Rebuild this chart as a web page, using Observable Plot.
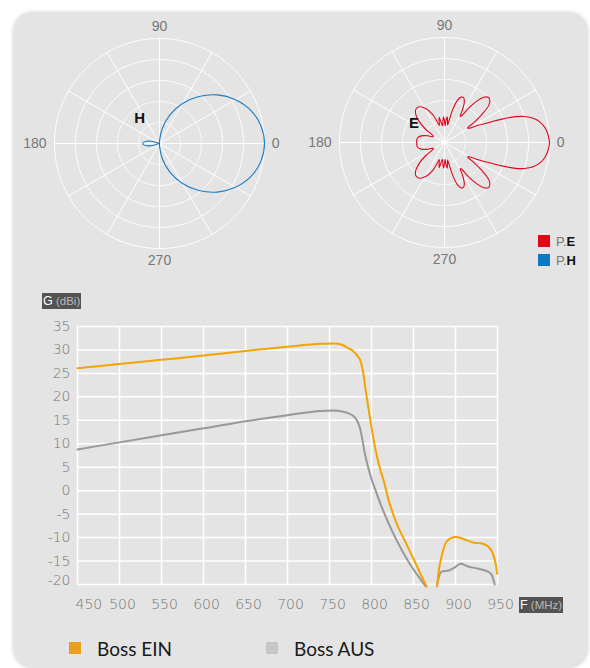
<!DOCTYPE html>
<html><head><meta charset="utf-8">
<script src="https://cdn.jsdelivr.net/npm/d3@7"></script>
<script src="https://cdn.jsdelivr.net/npm/@observablehq/plot@0.6"></script>
<style>
html,body{margin:0;padding:0;background:#fff;}
#root{position:relative;width:590px;height:668px;overflow:hidden;}
#panel{position:absolute;left:13px;top:12px;width:575px;height:656px;background:#e3e4e3;border-radius:20px;box-shadow:0 0 4px rgba(0,0,0,0.16);}
.abs{position:absolute;}
.tag{position:absolute;height:16px;background:#535353;font-family:"Liberation Sans",Arial,sans-serif;font-size:11.5px;line-height:16px;white-space:nowrap;padding:0 1px;}
.tag b{color:#fff;font-weight:normal;font-size:12.5px;}
.tag span{color:#b8b8b8;}
.pleg{position:absolute;font-family:"Liberation Sans",Arial,sans-serif;font-size:13px;line-height:13px;white-space:nowrap;}
.pleg i{display:inline-block;width:12px;height:12px;vertical-align:-1px;margin-right:6px;}
.pleg span{color:#777;}
.pleg b{color:#111;}
.leg{position:absolute;font-family:Lato,"Open Sans",sans-serif;font-size:19px;color:#1a1a1a;white-space:nowrap;line-height:19px;}
.sq{position:absolute;width:12px;height:12px;}
</style></head><body>
<div id="root"><div id="panel"></div></div>
<script>
// ---------- polar patterns ----------
const hAngle = [0,10,20,30,40,50,60,70,80,88,90,160,165,170,175,180,185,190,195,200,270,272,280,290,300,310,320,330,340,350];
const hRadius = [1.0,0.98,0.925,0.835,0.72,0.585,0.44,0.29,0.14,0.03,0,0,0.08,0.125,0.15,0.16,0.15,0.125,0.08,0,0,0.03,0.14,0.29,0.44,0.585,0.72,0.835,0.925,0.98];

const eAngleUpper = [0,4,8,12,15,18,20,22,24,27,30,32,34,37,40,43,46,49,52,55,57,59,61,64,67,70,73,76,78,80,82,84,86,88,90,92,94,97,100,102,104,107,110,113,119,125,130,135,140,145,149,153,158,164,170,175,180];
const eRadiusUpper = [1.00,0.99,0.97,0.93,0.88,0.80,0.72,0.60,0.48,0.36,0.27,0.26,0.33,0.45,0.55,0.59,0.60,0.57,0.50,0.40,0.31,0.29,0.35,0.43,0.465,0.46,0.42,0.32,0.22,0.17,0.21,0.245,0.21,0.16,0.2,0.245,0.21,0.16,0.2,0.245,0.21,0.17,0.22,0.29,0.37,0.415,0.42,0.39,0.32,0.22,0.13,0.12,0.17,0.23,0.26,0.265,0.265];
const eAngleLower = [185,190,196,202,207,211,215,220,225,230,235,241,247,250,253,256,258,260,263,266,268,270,272,274,276,278,280,282,284,287,290,293,296,299,301,303,305,308,311,314,317,320,323,326,328,330,333,336,338,340,342,345,348,352,356];
const eRadiusLower = [0.265,0.26,0.23,0.17,0.12,0.13,0.22,0.32,0.39,0.42,0.415,0.37,0.29,0.22,0.17,0.21,0.245,0.2,0.16,0.21,0.245,0.2,0.16,0.21,0.245,0.21,0.17,0.22,0.32,0.42,0.46,0.465,0.43,0.35,0.29,0.31,0.40,0.50,0.57,0.60,0.59,0.55,0.45,0.33,0.26,0.27,0.36,0.48,0.60,0.72,0.80,0.88,0.93,0.97,0.99];

const ringRadii = [0.2,0.4,0.6,0.8,1.0];
const spokeAngles = [0,30,60,90,120,150,180,210,240,270,300,330];
const polarTickAngles = [0,90,180,270];

// ---------- gain curves ----------
const einF1 = [450,500,550,600,650,700,740,755,765,772,778,783,787,790,793,796,800,805,810,815,820,830,840,850,858,865.5];
const einG1 = [26.1,27.0,27.9,28.8,29.8,30.7,31.3,31.4,31.1,30.4,29.8,28.8,27.6,25.3,21.5,18.0,13.5,8.5,4.8,1.8,-1.8,-7.0,-10.8,-14.5,-17.6,-20.4];
const einF2 = [878,880,884,890,900,914,922,930,938,944,947.6,949.6];
const einG2 = [-20.4,-17.2,-13.6,-10.7,-9.9,-10.6,-11.1,-11.2,-11.8,-13.2,-15.4,-17.7];
const ausF1 = [450,500,550,600,650,700,740,755,765,775,782,786,789,792,796,800,805,810,820,830,840,850,858,864.5];
const ausG1 = [8.8,10.3,11.8,13.3,14.8,16.1,17.0,17.1,16.9,16.3,15.2,13.5,11.0,8.0,5.0,2.5,0.0,-2.5,-6.8,-10.6,-13.9,-16.8,-18.8,-20.4];
const ausF2 = [878,881,884,892,898,906,914,926,938,943,946.7];
const ausG2 = [-20.2,-17.9,-17.2,-17.0,-16.5,-15.6,-16.1,-16.6,-17.2,-17.9,-20.0];

const seriesNames = ["Boss EIN","Boss AUS"];
const xTicks = [450,500,550,600,650,700,750,800,850,900,950];
const yTicks = [-20,-15,-10,-5,0,5,10,15,20,25,30,35];

const root = document.getElementById("root");
function place(el, left, top){ el.classList.add("abs"); el.style.left = left+"px"; el.style.top = top+"px"; root.appendChild(el); }

// ---------- polar builder ----------
const R = 105, SIZE = 280;
const rad = a => a*Math.PI/180;
const px = d => d.r*Math.cos(rad(d.a));
const py = d => d.r*Math.sin(rad(d.a));
function polar(angles, radii, color, name, namePos){
  const dom = [-(SIZE/2)/R, (SIZE/2)/R];
  const pts = angles.map((a,i)=>({a, r:radii[i]}));
  const rings = ringRadii.flatMap(r => d3.range(0,361,1).map(a=>({r,a})));
  const spokes = spokeAngles.flatMap(a => [{a,r:0},{a,r:1}]);
  const lab = polarTickAngles.map(a => ({a, t:String(a)}));
  const font = {fontFamily:"'Liberation Sans',Arial,sans-serif", fontSize:14, fill:"#777"};
  return Plot.plot({
    width:SIZE, height:SIZE, margin:0,
    style:{background:"transparent", overflow:"visible"},
    x:{domain:dom, axis:null}, y:{domain:dom, axis:null},
    marks:[
      Plot.line(rings,{x:px,y:py,z:"r",stroke:"#fff",strokeWidth:1}),
      Plot.line(spokes,{x:px,y:py,z:"a",stroke:"#fff",strokeWidth:1}),
      Plot.line(pts,{x:px,y:py,stroke:color,strokeWidth:1.1,curve:"catmull-rom-closed"}),
      Plot.text(lab.filter(d=>d.a===0),{x:d=>1.07,y:0,text:"t",textAnchor:"start",...font}),
      Plot.text(lab.filter(d=>d.a===180),{x:d=>-1.075,y:0,text:"t",textAnchor:"end",...font}),
      Plot.text(lab.filter(d=>d.a===90||d.a===270),{x:0,y:d=>Math.sin(rad(d.a))*1.11,text:"t",...font}),
      Plot.text([name],{x:namePos[0],y:namePos[1],text:d=>d,fontFamily:"'Liberation Sans',Arial,sans-serif",fontSize:15,fontWeight:"bold",fill:"#111"})
    ]
  });
}
place(polar(hAngle,hRadius,"#1b7cc4","H",[-0.19,0.24]), 159-SIZE/2, 143-SIZE/2);
place(polar(eAngleUpper.concat(eAngleLower), eRadiusUpper.concat(eRadiusLower), "#e0061f","E",[-0.29,0.185]), 444.3-SIZE/2, 142.4-SIZE/2);

// polar legend
const pl1 = document.createElement("div"); pl1.className="pleg"; pl1.innerHTML='<i style="background:#e30613"></i><span>P.</span><b>E</b>';
pl1.style.left="538px"; pl1.style.top="235px"; root.appendChild(pl1);
const pl2 = document.createElement("div"); pl2.className="pleg"; pl2.innerHTML='<i style="background:#0a78c2"></i><span>P.</span><b>H</b>';
pl2.style.left="538px"; pl2.style.top="253.5px"; root.appendChild(pl2);

// ---------- gain chart ----------
const segs = [
  {name:"Boss AUS", key:"a1", f:ausF1, g:ausG1},
  {name:"Boss AUS", key:"a2", f:ausF2, g:ausG2},
  {name:"Boss EIN", key:"e1", f:einF1, g:einG1},
  {name:"Boss EIN", key:"e2", f:einF2, g:einG2}
];
const rows = segs.flatMap(s => s.f.map((f,i)=>({series:s.name, key:s.key, f, g:s.g[i]})));
const axisFont = {fontFamily:"'DejaVu Sans',sans-serif", fontSize:14, fill:"#777", fontWeight:300};
const chartTop = 280;
const chart = Plot.plot({
  width:590, height:340,
  marginLeft:77, marginRight:93, marginTop:326-chartTop, marginBottom:340-(584-chartTop),
  style:{background:"transparent", overflow:"visible"},
  x:{domain:[450,950], axis:null},
  y:{domain:[-20,35], axis:null},
  color:{domain:seriesNames, range:["#f5a300","#989898"]},
  marks:[
    Plot.gridX(xTicks,{stroke:"#fff",strokeOpacity:1,strokeWidth:1.5}),
    Plot.gridY(yTicks,{stroke:"#fff",strokeOpacity:1,strokeWidth:1.5}),
    Plot.text(yTicks.filter(d=>d>-20),{x:450,y:d=>d,text:d=>String(d),textAnchor:"end",dx:-7,...axisFont}),
    Plot.text(yTicks.filter(d=>d===-20),{x:450,y:d=>d,text:d=>String(d),textAnchor:"end",dx:-7,dy:-4,...axisFont}),
    Plot.text(xTicks.filter(d=>d===450),{x:d=>d,y:-20,text:d=>String(d),textAnchor:"start",dx:-2,dy:20.5,...axisFont}),
    Plot.text(xTicks.filter(d=>d!==450),{x:d=>d,y:-20,text:d=>String(d),dx:3,dy:20.5,...axisFont}),
    Plot.line(rows,{x:"f",y:"g",z:"key",stroke:"series",strokeWidth:2,curve:"monotone-x"})
  ]
});
place(chart, 0, chartTop);

// axis name tags
const gTag = document.createElement("div"); gTag.className="tag"; gTag.innerHTML='<b>G</b> <span>(dBi)</span>';
gTag.style.left="42px"; gTag.style.top="293px"; root.appendChild(gTag);
const fTag = document.createElement("div"); fTag.className="tag"; fTag.innerHTML='<b>F</b> <span>(MHz)</span>';
fTag.style.left="519px"; fTag.style.top="597px"; root.appendChild(fTag);

// bottom legend
const legColors = ["#e8a11f","#c6c6c6"];
const legX = [69, 266];
seriesNames.forEach((n,i)=>{
  const sq = document.createElement("div"); sq.className="sq"; sq.style.background=legColors[i];
  sq.style.left=legX[i]+"px"; sq.style.top="642px"; root.appendChild(sq);
  const t = document.createElement("div"); t.className="leg"; t.textContent=n;
  t.style.left=(legX[i]+28)+"px"; t.style.top="639px"; root.appendChild(t);
});
</script></body></html>
